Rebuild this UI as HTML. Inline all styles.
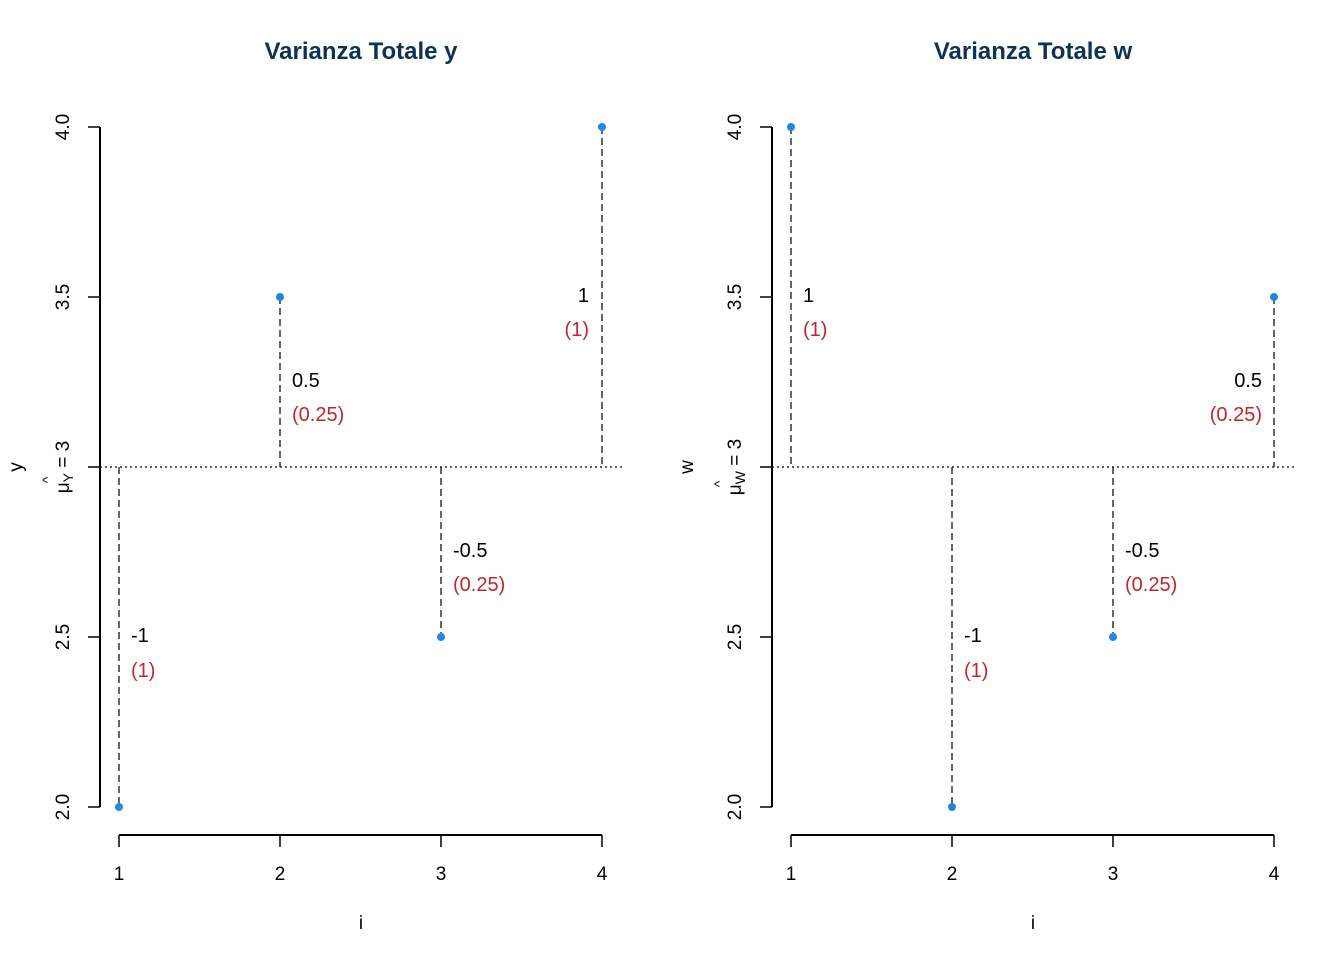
<!DOCTYPE html>
<html><head><meta charset="utf-8"><style>
body{margin:0;background:#fff}
svg text{font-family:"Liberation Sans",Arial,sans-serif}
</style></head><body>
<svg width="1344" height="960" xmlns="http://www.w3.org/2000/svg">
<g id="L">
<text x="361" y="59" text-anchor="middle" font-size="24" font-weight="bold" fill="#0b3355">Varianza Totale y</text>
<line x1="100" y1="127" x2="100" y2="807" stroke="#000" stroke-width="2"/>
<g stroke="#000" stroke-width="1.5"><line x1="88" y1="127" x2="100" y2="127"/><line x1="88" y1="297" x2="100" y2="297"/><line x1="88" y1="467" x2="100" y2="467"/><line x1="88" y1="637" x2="100" y2="637"/><line x1="88" y1="807" x2="100" y2="807"/></g>
<g font-size="19" text-anchor="middle">
<text transform="translate(69,127) rotate(-90)">4.0</text>
<text transform="translate(69,297) rotate(-90)">3.5</text>
<text transform="translate(69,637) rotate(-90)">2.5</text>
<text transform="translate(69,807) rotate(-90)">2.0</text>
<text transform="translate(69,467) rotate(-90)">μ<tspan font-size="14" dy="4">Y</tspan><tspan dy="-4"> = 3</tspan></text>
<text transform="translate(52,480) rotate(-90)" font-size="14">^</text>
<text transform="translate(22,467) rotate(-90)">y</text>
</g>
<line x1="119" y1="835" x2="602" y2="835" stroke="#000" stroke-width="2"/>
<g stroke="#000" stroke-width="1.5"><line x1="119" y1="835" x2="119" y2="847"/><line x1="280" y1="835" x2="280" y2="847"/><line x1="441" y1="835" x2="441" y2="847"/><line x1="602" y1="835" x2="602" y2="847"/></g>
<g font-size="19" text-anchor="middle"><text x="119" y="880">1</text><text x="280" y="880">2</text><text x="441" y="880">3</text><text x="602" y="880">4</text><text x="361" y="929">i</text></g>
<line x1="100" y1="467" x2="622" y2="467" stroke="#000" stroke-width="1.2" stroke-dasharray="2,3"/>
<g stroke="#000" stroke-width="1.2" stroke-dasharray="7,4">
<line x1="119" y1="467" x2="119" y2="807"/><line x1="280" y1="297" x2="280" y2="467"/><line x1="441" y1="467" x2="441" y2="637"/><line x1="602" y1="127" x2="602" y2="467"/></g>
<g fill="#1e88e5"><circle cx="119" cy="807" r="4"/><circle cx="280" cy="297" r="4"/><circle cx="441" cy="637" r="4"/><circle cx="602" cy="127" r="4"/></g>
<g font-size="20">
<text x="131" y="642">-1</text><text x="131" y="677" fill="#c0272d">(1)</text>
<text x="292" y="387">0.5</text><text x="292" y="421" fill="#c0272d">(0.25)</text>
<text x="453" y="557">-0.5</text><text x="453" y="591" fill="#c0272d">(0.25)</text>
<text x="589" y="302" text-anchor="end">1</text><text x="589" y="336" text-anchor="end" fill="#c0272d">(1)</text>
</g>
</g>
<g id="R">
<text x="1033" y="59" text-anchor="middle" font-size="24" font-weight="bold" fill="#0b3355">Varianza Totale w</text>
<line x1="772" y1="127" x2="772" y2="807" stroke="#000" stroke-width="2"/>
<g stroke="#000" stroke-width="1.5"><line x1="760" y1="127" x2="772" y2="127"/><line x1="760" y1="297" x2="772" y2="297"/><line x1="760" y1="467" x2="772" y2="467"/><line x1="760" y1="637" x2="772" y2="637"/><line x1="760" y1="807" x2="772" y2="807"/></g>
<g font-size="19" text-anchor="middle">
<text transform="translate(741,127) rotate(-90)">4.0</text>
<text transform="translate(741,297) rotate(-90)">3.5</text>
<text transform="translate(741,637) rotate(-90)">2.5</text>
<text transform="translate(741,807) rotate(-90)">2.0</text>
<text transform="translate(741,467) rotate(-90)">μ<tspan font-size="14" dy="4">W</tspan><tspan dy="-4"> = 3</tspan></text>
<text transform="translate(724,484) rotate(-90)" font-size="14">^</text>
<text transform="translate(693,467) rotate(-90)">w</text>
</g>
<line x1="791" y1="835" x2="1274" y2="835" stroke="#000" stroke-width="2"/>
<g stroke="#000" stroke-width="1.5"><line x1="791" y1="835" x2="791" y2="847"/><line x1="952" y1="835" x2="952" y2="847"/><line x1="1113" y1="835" x2="1113" y2="847"/><line x1="1274" y1="835" x2="1274" y2="847"/></g>
<g font-size="19" text-anchor="middle"><text x="791" y="880">1</text><text x="952" y="880">2</text><text x="1113" y="880">3</text><text x="1274" y="880">4</text><text x="1033" y="929">i</text></g>
<line x1="772" y1="467" x2="1294" y2="467" stroke="#000" stroke-width="1.2" stroke-dasharray="2,3"/>
<g stroke="#000" stroke-width="1.2" stroke-dasharray="7,4">
<line x1="791" y1="127" x2="791" y2="467"/><line x1="952" y1="467" x2="952" y2="807"/><line x1="1113" y1="467" x2="1113" y2="637"/><line x1="1274" y1="297" x2="1274" y2="467"/></g>
<g fill="#1e88e5"><circle cx="791" cy="127" r="4"/><circle cx="952" cy="807" r="4"/><circle cx="1113" cy="637" r="4"/><circle cx="1274" cy="297" r="4"/></g>
<g font-size="20">
<text x="803" y="302">1</text><text x="803" y="336" fill="#c0272d">(1)</text>
<text x="964" y="642">-1</text><text x="964" y="677" fill="#c0272d">(1)</text>
<text x="1125" y="557">-0.5</text><text x="1125" y="591" fill="#c0272d">(0.25)</text>
<text x="1262" y="387" text-anchor="end">0.5</text><text x="1262" y="421" text-anchor="end" fill="#c0272d">(0.25)</text>
</g>
</g>
</svg>
</body></html>
